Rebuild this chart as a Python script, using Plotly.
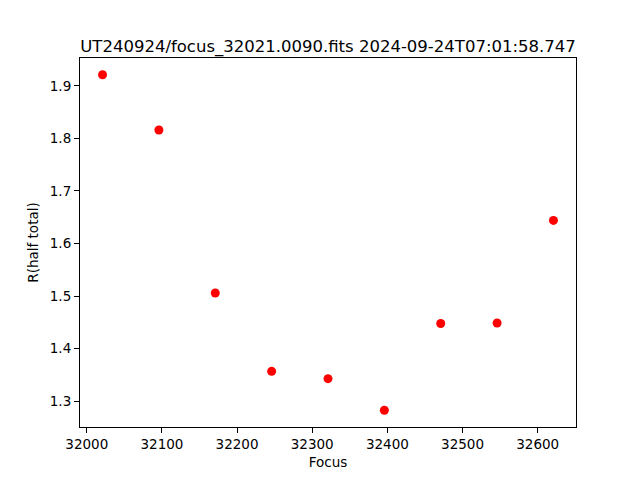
import plotly.graph_objects as go

focus = [32021, 32096, 32171, 32246, 32321, 32396, 32471, 32546, 32621]
r_half = [1.921, 1.816, 1.506, 1.357, 1.343, 1.283, 1.448, 1.449, 1.644]
title_text = "UT240924/focus_32021.0090.fits 2024-09-24T07:01:58.747"
x_ticks = [32000, 32100, 32200, 32300, 32400, 32500, 32600]
y_ticks = [1.3, 1.4, 1.5, 1.6, 1.7, 1.8, 1.9]

fig = go.Figure()
fig.add_trace(go.Scatter(
    x=focus, y=r_half, mode="markers",
    marker=dict(color="#ff0000", size=9, line=dict(width=0)),
    showlegend=False,
))

font = "DejaVu Sans"
axis_common = dict(
    showgrid=False, zeroline=False, showline=True, linecolor="black", linewidth=1.1,
    mirror=True, ticks="outside", ticklen=5, tickwidth=1.1, tickcolor="black",
    tickfont=dict(family=font, size=13.5, color="black"), automargin=False,
)

# page body has an 8px default margin; compensate so the plot lands where the reference has it
fig.update_layout(
    width=632, height=472,
    paper_bgcolor="white", plot_bgcolor="white",
    margin=dict(l=72, r=64, t=50, b=53, pad=0, autoexpand=False),
    title=dict(text=title_text, x=0.5, xref="paper", xanchor="center",
               y=1, yref="paper", yanchor="bottom", pad=dict(b=6), automargin=False,
               font=dict(family=font, size=16.5, color="black")),
    xaxis=dict(range=[31991, 32651], tickvals=x_ticks, ticktext=[str(v) for v in x_ticks],
               title=dict(text="Focus", font=dict(family=font, size=13.5, color="black"), standoff=6),
               **axis_common),
    yaxis=dict(range=[1.2511, 1.9529], tickvals=y_ticks, ticktext=[f"{v:.1f}" for v in y_ticks],
               title=dict(text="R(half total)", font=dict(family=font, size=13.5, color="black"), standoff=8),
               **axis_common),
)

fig.write_html("out.html")
